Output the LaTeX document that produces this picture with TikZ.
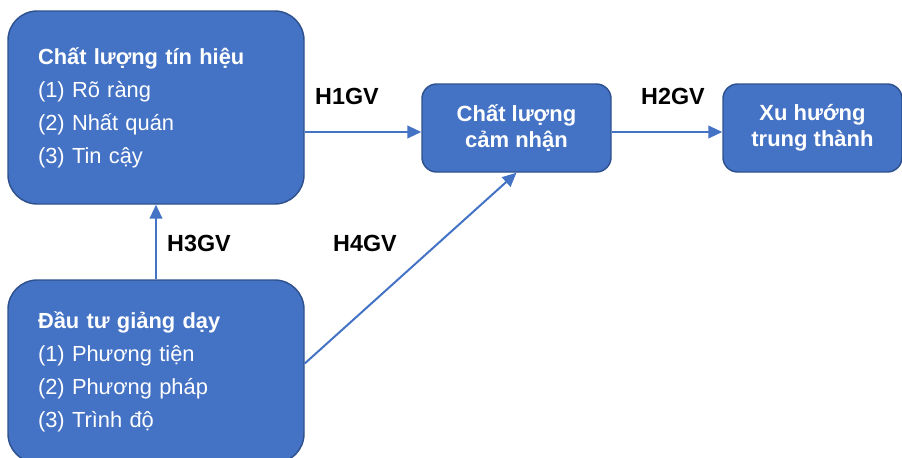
\documentclass[tikz,border=0pt]{standalone}
\usepackage{fontspec}
\setmainfont{Liberation Sans}
\usetikzlibrary{arrows.meta, positioning}
\definecolor{boxfill}{HTML}{4472C4}
\definecolor{boxline}{HTML}{2F528F}

\begin{document}
\begin{tikzpicture}[x=0.75pt, y=-0.75pt,
		bigbox/.style={draw=boxline, line width=1.1pt, fill=boxfill, rounded corners=22pt,
			text=white, minimum width=222pt, inner xsep=22.5pt, text width=177pt,
			align=left, font=\fontsize{16.4}{24.75}\selectfont},
		smallbox/.style={draw=boxline, line width=1.1pt, fill=boxfill, rounded corners=11pt,
			text=white, minimum height=66pt, align=center,
			font=\bfseries\fontsize{16.5}{19.5}\selectfont},
		link/.style={draw=boxfill, line width=1.5pt, -{Triangle[length=10.5pt, width=9.5pt]}},
		hyp/.style={font=\bfseries\fontsize{17.5}{20}\selectfont}]
			\useasboundingbox (0,0) rectangle (902,457);

			\node[bigbox, minimum height=144.75pt] (signal) at (156,107.5)
				{\textbf{Chất lượng tín hiệu}\\(1) Rõ ràng\\(2) Nhất quán\\(3) Tin cậy};
			\node[bigbox, minimum height=137.25pt] (invest) at (156,371.5)
				{\textbf{Đầu tư giảng dạy}\\(1) Phương tiện\\(2) Phương pháp\\(3) Trình độ};
			\node[smallbox, minimum width=141.75pt] (percv) at (516.5,128) {Chất lượng\\cảm nhận};
			\node[smallbox, minimum width=134.25pt] (loyal) at (812.5,128) {Xu hướng\\trung thành};

			% hypotheses
			\coordinate (h1end) at ([yshift=-3pt]percv.west);
			\coordinate (h2end) at ([yshift=-3pt]loyal.west);
			\draw[link] (h1end -| signal.east) -- (h1end);
			\draw[link] (h2end -| percv.east) -- (h2end);
			\draw[link] (invest.north) -- (signal.south);
			\draw[link] ([yshift=6pt]invest.east) -- (percv.south);

			\node[hyp] (h1) at (347,96) {H1GV};
			\node[hyp] (h2) at (673,96) {H2GV};
			\node[hyp] (h3) at (199,243) {H3GV};
			\node[hyp] (h4) at (365,243) {H4GV};
		\end{tikzpicture}
\end{document}
